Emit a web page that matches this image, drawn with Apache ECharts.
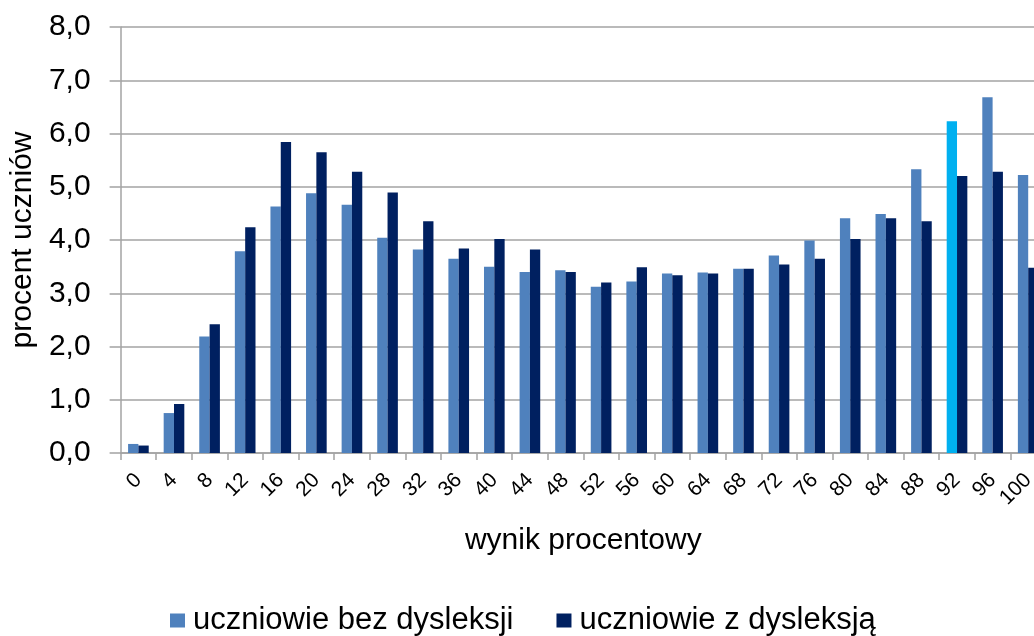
<!DOCTYPE html>
<html>
<head>
<meta charset="utf-8">
<script src="https://cdn.jsdelivr.net/npm/echarts@6/dist/echarts.min.js"></script>
<style>
  html, body { margin: 0; padding: 0; background: #fff; overflow: hidden; }
  /* the reference cuts the last category off at the right edge */
  #main { width: 1046px; height: 636px; }
</style>
</head>
<body>
<div id="main"></div>
<script>
const categories = ['0','4','8','12','16','20','24','28','32','36','40','44','48','52','56','60','64','68','72','76','80','84','88','92','96','100'];
const bezDysleksji = [0.17, 0.75, 2.19, 3.79, 4.63, 4.88, 4.66, 4.04, 3.82, 3.65, 3.50, 3.40, 3.43, 3.12, 3.22, 3.37, 3.39, 3.46, 3.71, 3.99, 4.41, 4.49, 5.33, 6.23, 6.68, 5.22];
const zDysleksja = [0.14, 0.92, 2.42, 4.24, 5.84, 5.65, 5.28, 4.89, 4.35, 3.84, 4.02, 3.82, 3.40, 3.20, 3.49, 3.34, 3.37, 3.46, 3.54, 3.65, 4.02, 4.41, 4.35, 5.20, 5.28, 3.48];
const highlightIndex = 23; // wynik 92

const font = '"Liberation Sans", Arial, sans-serif';
const gridColor = '#a3a3a3';

const chart = echarts.init(document.getElementById('main'));

const lightData = bezDysleksji.map((v, i) =>
  i === highlightIndex ? { value: v, itemStyle: { color: '#00b0f0' } } : v
);

chart.setOption({
  animation: false,
  textStyle: { fontFamily: font },
  grid: { left: 117, top: 27, bottom: 183, right: 0, containLabel: false },
  legend: {
    top: 600,
    left: 165,
    itemWidth: 15,
    itemHeight: 14,
    itemGap: 43,
    icon: 'rect',
    textStyle: { fontSize: 31, color: '#000', fontFamily: font, padding: [0, 0, 0, 3] },
    data: ['uczniowie bez dysleksji', 'uczniowie z dysleksją']
  },
  xAxis: {
    type: 'category',
    data: categories,
    name: 'wynik procentowy',
    nameLocation: 'middle',
    nameGap: 73,
    nameTextStyle: { fontSize: 30, color: '#000', fontFamily: font },
    axisLine: { lineStyle: { color: gridColor, width: 1.5 } },
    axisTick: { show: true, length: 7, interval: 0, lineStyle: { color: gridColor, width: 1.5 } },
    axisLabel: { interval: 0, rotate: 45, fontSize: 21, color: '#000', margin: 24, fontFamily: font }
  },
  yAxis: {
    type: 'value',
    min: 0,
    max: 8,
    interval: 1,
    name: 'procent uczniów',
    nameLocation: 'middle',
    nameGap: 70,
    nameTextStyle: { fontSize: 30, color: '#000', fontFamily: font },
    axisLine: { show: true, lineStyle: { color: gridColor, width: 1.5 } },
    axisTick: { show: true, length: 11, lineStyle: { color: gridColor, width: 1.5 } },
    axisLabel: {
      fontSize: 30, color: '#000', margin: 30, fontFamily: font,
      formatter: v => v.toFixed(1).replace('.', ',')
    },
    splitLine: { lineStyle: { color: gridColor, width: 1.5 } }
  },
  series: [
    {
      name: 'uczniowie bez dysleksji',
      type: 'bar',
      data: lightData,
      barGap: '0%',
      barCategoryGap: '42%',
      itemStyle: { color: '#4f81bd' }
    },
    {
      name: 'uczniowie z dysleksją',
      type: 'bar',
      data: zDysleksja,
      itemStyle: { color: '#002060' }
    }
  ]
});
</script>
</body>
</html>
